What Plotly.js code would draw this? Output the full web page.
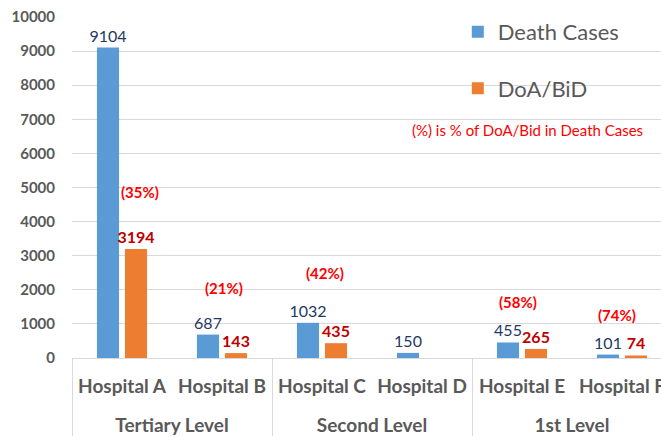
<!DOCTYPE html>
<html>
<head>
<meta charset="utf-8">
<script src="https://cdn.plot.ly/plotly-3.0.1.min.js"></script>
<style>html,body{margin:0;padding:0;background:#fff;}#chart{width:661px;height:437px;}</style>
</head>
<body>
<div id="chart"></div>
<script>
// ---- data ----
var levels = ['Tertiary Level', 'Tertiary Level', 'Second Level', 'Second Level', '1st Level', '1st Level'];
var hospitals = ['Hospital A', 'Hospital B', 'Hospital C', 'Hospital D', 'Hospital E', 'Hospital F'];
var deathCases = [9104, 687, 1032, 150, 455, 101];
var doaBid = [3194, 143, 435, null, 265, 74];
var pctLabels = ['(35%)', '(21%)', '(42%)', null, '(58%)', '(74%)'];
var noteText = '(%) is % of DoA/Bid in Death Cases';

// ---- layout positions for percentage annotations (not data) ----
var pctDx = [0.18, 0.02, 0.03, 0, -0.04, -0.05];
var pctY = [4870, 2050, 2490, 0, 1640, 1260];
var xMin = -0.5, xMax = 5.39;

var font = 'Lato, sans-serif';
var gray = '#595959';

// level labels pushed down one line to mimic the spacing of the two-level axis
var levelTicks = levels.map(function (l) { return '<br>' + l; });

var traces = [
  {
    type: 'bar', name: 'Death Cases', x: [levelTicks, hospitals], y: deathCases,
    marker: {color: '#5b9bd5'},
    text: deathCases.map(function (v) { return v == null ? '' : String(v); }),
    textposition: 'outside', cliponaxis: false, constraintext: 'none',
    textfont: {family: font, size: 16, color: '#1f3864'},
    legendgroup: 'a'
  },
  {
    type: 'bar', name: 'DoA/BiD', x: [levelTicks, hospitals], y: doaBid,
    marker: {color: '#ed7d31'},
    text: doaBid.map(function (v) { return v == null ? '' : String(v); }),
    textposition: 'outside', cliponaxis: false, constraintext: 'none',
    textfont: {family: font, size: 16, color: '#c00000', weight: 'bold'},
    legendgroup: 'b'
  }
];

var annotations = [];
pctLabels.forEach(function (t, i) {
  if (!t) return;
  annotations.push({
    xref: 'paper', yref: 'y',
    x: (i - xMin + pctDx[i]) / (xMax - xMin), y: pctY[i],
    text: '<b>' + t + '</b>', showarrow: false,
    font: {family: font, size: 15, color: '#ff0000'},
    xanchor: 'center', yanchor: 'middle'
  });
});
annotations.push({
  xref: 'paper', yref: 'y', x: 0.774, y: 6690, text: noteText, showarrow: false,
  font: {family: font, size: 15, color: '#ff0000'}, xanchor: 'center', yanchor: 'middle'
});

var layout = {
  width: 661, height: 437,
  margin: {l: 72, r: 0, t: 17, b: 79},
  paper_bgcolor: '#fff', plot_bgcolor: '#fff',
  barmode: 'group', bargap: 0.44, bargroupgap: 0.21,
  font: {family: font, color: gray},
  showlegend: true,
  legend: {
    x: 0.655, y: 1.018, xanchor: 'left', yanchor: 'top',
    font: {family: font, size: 22, color: gray},
    traceorder: 'grouped', tracegroupgap: 25,
    bgcolor: 'rgba(0,0,0,0)'
  },
  xaxis: {
    type: 'multicategory', range: [xMin, xMax],
    showgrid: false, showline: true, linecolor: '#d9d9d9', linewidth: 1,
    showdividers: true, dividercolor: '#d9d9d9', dividerwidth: 1,
    tickfont: {family: font, size: 19, color: gray, weight: 'bold'},
    ticks: '', ticklabelstandoff: 11
  },
  yaxis: {
    range: [0, 10000], dtick: 1000, tickformat: 'd',
    showgrid: true, gridcolor: '#d9d9d9', gridwidth: 1,
    zeroline: false, showline: false,
    tickfont: {family: font, size: 15, color: gray, weight: 'bold'},
    ticklabelstandoff: 16
  },
  annotations: annotations
};

Plotly.newPlot('chart', traces, layout, {displayModeBar: false, staticPlot: true});
</script>
</body>
</html>
